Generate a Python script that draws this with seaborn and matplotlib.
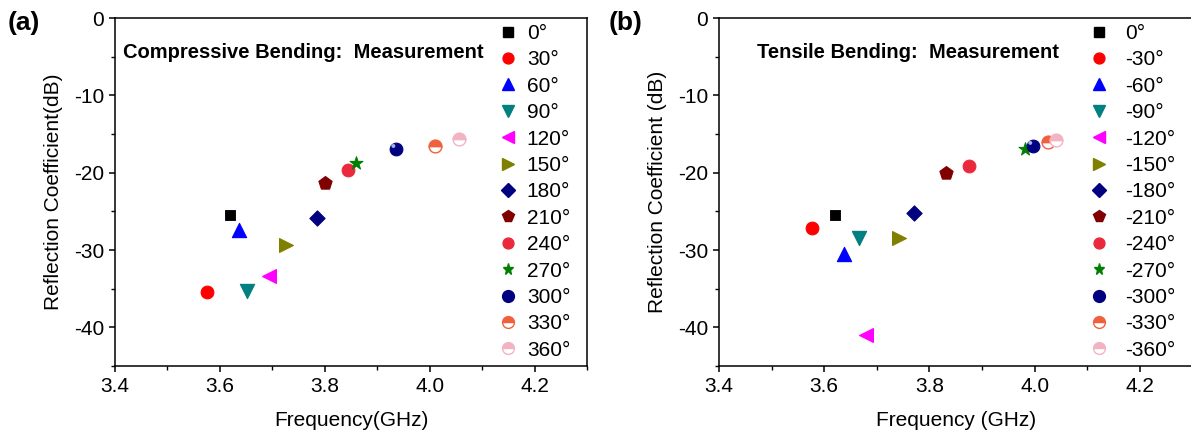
import matplotlib
matplotlib.use("Agg")
import matplotlib.pyplot as plt
import matplotlib.transforms as mtrans
from matplotlib.lines import Line2D
from matplotlib.markers import MarkerStyle
from matplotlib.ticker import MultipleLocator, FormatStrFormatter
import pandas as pd
import seaborn as sns

# compressive bending (a)
comp_angles = ["0°", "30°", "60°", "90°", "120°", "150°", "180°",
               "210°", "240°", "270°", "300°", "330°", "360°"]
comp_freq = [3.620, 3.576, 3.636, 3.651, 3.694, 3.726, 3.785,
             3.801, 3.845, 3.860, 3.936, 4.010, 4.055]
comp_refl = [-25.5, -35.4, -27.4, -35.3, -33.4, -29.4, -25.8,
             -21.3, -19.7, -18.8, -16.9, -16.5, -15.7]

# tensile bending (b)
tens_angles = ["0°", "-30°", "-60°", "-90°", "-120°", "-150°", "-180°",
               "-210°", "-240°", "-270°", "-300°", "-330°", "-360°"]
tens_freq = [3.621, 3.576, 3.637, 3.666, 3.680, 3.743, 3.771,
             3.831, 3.876, 3.981, 3.997, 4.026, 4.041]
tens_refl = [-25.5, -27.2, -30.5, -28.5, -41.0, -28.4, -25.2,
             -20.1, -19.1, -16.95, -16.5, -16.05, -15.8]

# marker style per angle
MARKERS = ["s", "o", "^", "v", "<", ">", "D", "p", "o", "*", "sphere", "half", "half"]
COLORS = ["#000000", "#ff0000", "#0000ff", "#008080", "#ff00ff", "#808000", "#000080",
          "#800000", "#ea2a3c", "#007f00", "#000080", "#f0603c", "#f2b4c2"]
SIZES = [62, 85, 105, 105, 100, 100, 62, 100, 85, 95, 85, 85, 85]

sns.set_theme(style="ticks")
plt.rcParams["font.family"] = ["Liberation Sans", "DejaVu Sans"]
plt.rcParams["axes.unicode_minus"] = False
plt.rcParams["xtick.direction"] = "out"
plt.rcParams["ytick.direction"] = "out"
for k in ["text.color", "axes.labelcolor", "xtick.color", "ytick.color"]:
    plt.rcParams[k] = "black"

fig = plt.figure(figsize=(11.91, 4.41), dpi=100)
fig.patch.set_facecolor("white")


def draw_panel(ax, angles, freq, refl, note, note_x, letter, letter_x,
               xlabel, ylabel, leg_x, leg_pad):
    df = pd.DataFrame({"angle": angles, "freq": freq, "refl": refl})
    handles = []
    for i, row in df.iterrows():
        m, c, s = MARKERS[i], COLORS[i], SIZES[i]
        if m == "half":
            sns.scatterplot(x=[row.freq], y=[row.refl], ax=ax, s=s, color="white",
                            marker=MarkerStyle("o", fillstyle="bottom"),
                            edgecolor=c, linewidth=1.0, zorder=3)
            sns.scatterplot(x=[row.freq], y=[row.refl], ax=ax, s=s, color=c,
                            marker=MarkerStyle("o", fillstyle="top"),
                            edgecolor=c, linewidth=1.0, zorder=3)
            h = Line2D([], [], linestyle="none", marker="o", markersize=8.5,
                       color=c, markeredgecolor=c, fillstyle="top",
                       markerfacecoloralt="white")
        elif m == "sphere":
            sns.scatterplot(x=[row.freq], y=[row.refl], ax=ax, s=s, color=c,
                            marker="o", edgecolor=c, zorder=3)
            shift = mtrans.ScaledTranslation(-2 / 72, 2 / 72, fig.dpi_scale_trans)
            sns.scatterplot(x=[row.freq], y=[row.refl], ax=ax, s=8, color="#9fb4e8",
                            marker="o", edgecolor="none", zorder=4,
                            transform=ax.transData + shift)
            h = Line2D([], [], linestyle="none", marker="o", markersize=8.5,
                       color=c, markeredgecolor=c)
        else:
            sns.scatterplot(x=[row.freq], y=[row.refl], ax=ax, s=s, color=c,
                            marker=m, edgecolor=c, zorder=3)
            h = Line2D([], [], linestyle="none", marker=m, color=c,
                       markeredgecolor=c, markersize=(s ** 0.5) * 0.85)
        handles.append(h)

    ax.set_xlim(3.4, 4.3)
    ax.set_ylim(-45, 0)
    ax.xaxis.set_major_locator(MultipleLocator(0.2))
    ax.xaxis.set_minor_locator(MultipleLocator(0.1))
    ax.yaxis.set_major_locator(MultipleLocator(10))
    ax.yaxis.set_minor_locator(MultipleLocator(5))
    ax.xaxis.set_major_formatter(FormatStrFormatter("%.1f"))
    ax.tick_params(which="major", length=4, width=1.1, labelsize=15, pad=4, colors="black")
    ax.tick_params(which="minor", length=3, width=1.0)
    for sp in ax.spines.values():
        sp.set_linewidth(1.1)
        sp.set_color("black")
    ax.set_xlabel(xlabel, fontsize=15, labelpad=11)
    ax.set_ylabel(ylabel, fontsize=15, labelpad=8)

    ax.legend(handles, angles, loc="upper left", bbox_to_anchor=(leg_x, 0.995),
              frameon=False, fontsize=15, handlelength=0.9, borderpad=0.2,
              borderaxespad=0, handletextpad=leg_pad, labelspacing=0.355)
    ax.text(note_x, 0.902, note, transform=ax.transAxes, fontsize=14.5,
            fontweight="bold", va="center", ha="left")
    fig.text(letter_x, 0.948, letter, fontsize=19, fontweight="bold",
             va="center", ha="left")


ax1 = fig.add_axes([0.0966, 0.170, 0.3963, 0.789])
ax2 = fig.add_axes([0.6037, 0.170, 0.3975, 0.789])

draw_panel(ax1, comp_angles, comp_freq, comp_refl,
           "Compressive Bending:  Measurement", 0.017, "(a)", 0.006,
           "Frequency(GHz)", "Reflection Coefficient(dB)", 0.804, 0.45)
draw_panel(ax2, tens_angles, tens_freq, tens_refl,
           "Tensile Bending:  Measurement", 0.08, "(b)", 0.511,
           "Frequency (GHz)", "Reflection Coefficient (dB)", 0.774, 0.8)

fig.savefig("out.png", dpi=100, facecolor="white")
